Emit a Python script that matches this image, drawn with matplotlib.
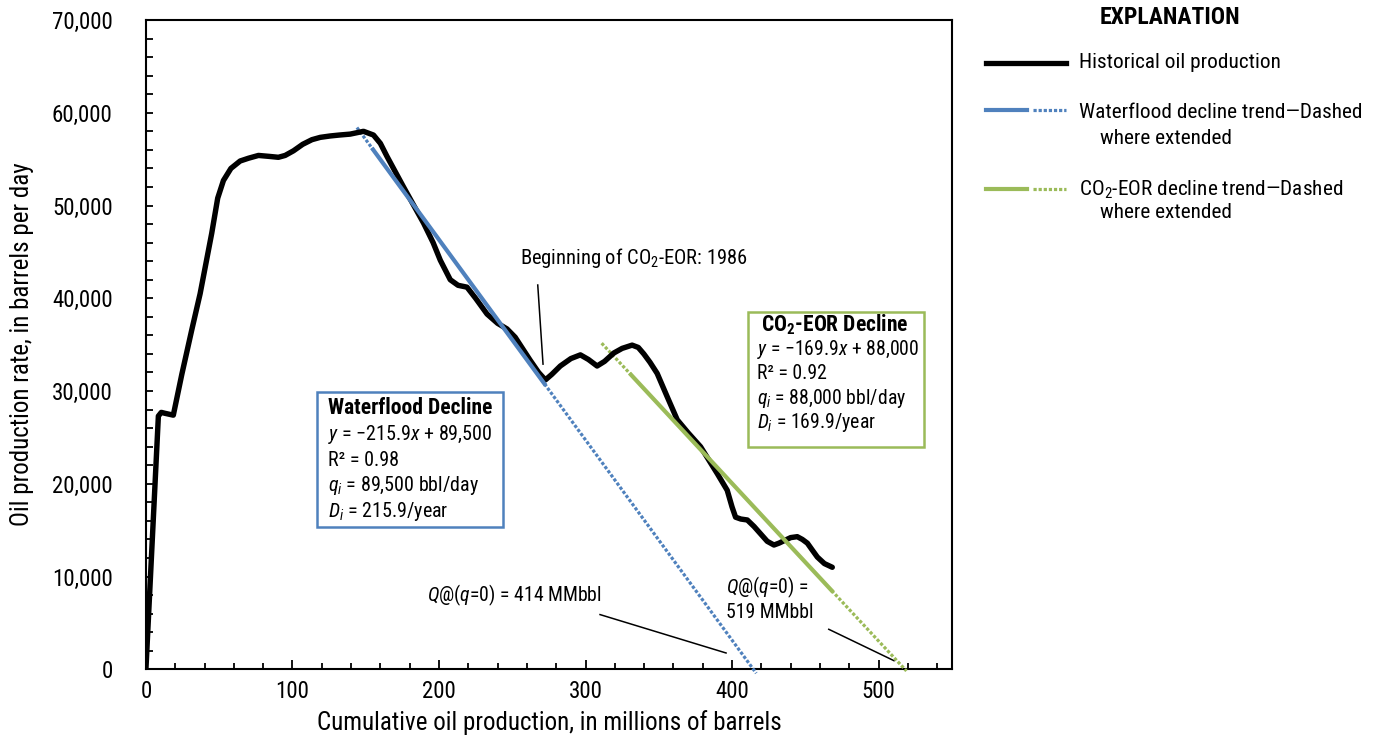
import matplotlib
matplotlib.use('Agg')
import matplotlib.pyplot as plt
from matplotlib import font_manager
from matplotlib.lines import Line2D
from matplotlib.patches import Rectangle
from matplotlib.ticker import MultipleLocator, FuncFormatter

# pick a condensed font if there is one
fam = 'DejaVu Sans'
for name in ['Liberation Sans Narrow', 'Roboto Condensed', 'Liberation Sans']:
    try:
        font_manager.findfont(name, fallback_to_default=False)
        fam = name
        break
    except Exception:
        pass

plt.rcParams['font.family'] = [fam, 'DejaVu Sans']
plt.rcParams['mathtext.fontset'] = 'custom'
plt.rcParams['mathtext.rm'] = fam
plt.rcParams['mathtext.it'] = fam + ':italic'
plt.rcParams['mathtext.bf'] = fam + ':bold'

# historical production (cumulative MMbbl, rate bbl/day)
cum = [0, 8.5, 10.5, 13, 18.7, 24.5, 31.3, 37.0, 44.9, 49, 52.9, 58, 64.3, 70, 76.8,
       84, 90.4, 95, 100.7, 107, 113.3, 119, 125.8, 132, 139.4, 148.5, 155.3, 160,
       164.5, 175.8, 189.5, 196, 200.9, 207.7, 213, 219.1, 225, 232.8, 240, 246.4,
       252, 262.3, 268, 272.6, 277, 282.8, 290, 296.5, 302, 307.9, 313, 319.3, 325,
       331.8, 336, 339.8, 344, 348.9, 355.7, 362.6, 370, 378.5, 384, 389.9, 396.7,
       400, 402.4, 406, 410.4, 415, 419.5, 424, 428.6, 432, 436, 440, 444.5, 448,
       451.4, 455, 458.2, 463, 468.4]
rate = [0, 27300, 27700, 27600, 27400, 31800, 36600, 40500, 47000, 50800, 52700, 54000,
        54800, 55100, 55400, 55300, 55200, 55400, 55900, 56600, 57100, 57350, 57500,
        57600, 57700, 58000, 57600, 56700, 55300, 52000, 48100, 46000, 44100, 42000,
        41400, 41200, 40000, 38300, 37300, 36700, 35800, 33300, 32000, 31200, 31800,
        32700, 33500, 33900, 33400, 32700, 33200, 34100, 34600, 34950, 34700, 34000,
        33100, 31900, 29400, 26900, 25500, 24000, 22600, 21100, 19300, 17500, 16400,
        16200, 16100, 15400, 14600, 13800, 13400, 13600, 13900, 14200, 14300, 14000,
        13600, 12800, 12100, 11400, 11000]

# decline fits
wf_slope, wf_int = -215.9, 89500
eor_slope, eor_int = -169.9, 88000
wf_dot1 = [144, 155]
wf_solid = [155, 272]
wf_dot2 = [272, 416.5]
eor_dot1 = [311, 331]
eor_solid = [331, 468]
eor_dot2 = [468, 519]

blue = '#4f81bd'
green = '#9bbb59'
dots = (0, (1.0, 0.6))

fig = plt.figure(figsize=(13.91, 7.47), dpi=100)
ax = fig.add_axes([0.1049, 0.1040, 0.5794, 0.8692])

def fit(xs, m, b):
    return [m * x + b for x in xs]

ax.plot(wf_dot1, fit(wf_dot1, wf_slope, wf_int), color=blue, lw=2.3, ls=dots, zorder=3)
ax.plot(wf_dot2, fit(wf_dot2, wf_slope, wf_int), color=blue, lw=2.3, ls=dots, zorder=3, clip_on=False)
ax.plot(eor_dot1, fit(eor_dot1, eor_slope, eor_int), color=green, lw=2.3, ls=dots, zorder=3)
ax.plot(eor_dot2, fit(eor_dot2, eor_slope, eor_int), color=green, lw=2.3, ls=dots, zorder=3, clip_on=False)
ax.plot(cum, rate, color='black', lw=3.9, solid_capstyle='round', solid_joinstyle='round', zorder=4)
ax.plot(wf_solid, fit(wf_solid, wf_slope, wf_int), color=blue, lw=3.0, zorder=5)
ax.plot(eor_solid, fit(eor_solid, eor_slope, eor_int), color=green, lw=3.0, zorder=5)

ax.set_xlim(0, 550)
ax.set_ylim(0, 70000)
ax.xaxis.set_major_locator(MultipleLocator(100))
ax.xaxis.set_minor_locator(MultipleLocator(20))
ax.yaxis.set_major_locator(MultipleLocator(10000))
ax.yaxis.set_minor_locator(MultipleLocator(2000))
ax.yaxis.set_major_formatter(FuncFormatter(lambda v, p: f'{int(v):,}'))
ax.tick_params(which='both', direction='in', width=1.3, labelsize=16.5)
ax.tick_params(axis='x', which='major', length=6.5, pad=8)
ax.tick_params(axis='x', which='minor', length=4.5)
ax.tick_params(axis='y', which='both', length=5, pad=24)
for s in ax.spines.values():
    s.set_linewidth(1.5)

ax.set_xlabel('Cumulative oil production, in millions of barrels', fontsize=18, labelpad=5)
ax.set_ylabel('Oil production rate, in barrels per day', fontsize=18, labelpad=13)

# annotations
ax.text(255.5, 44300, 'Beginning of CO$_2$-EOR: 1986', fontsize=14.8, va='center', ha='left')
ax.plot([267.4, 271.0], [41430, 32900], color='black', lw=1.1)
ax.text(191.8, 8000, '$Q$@($q$=0) = 414 MMbbl', fontsize=14.2, va='center', ha='left')
ax.plot([309.9, 395.9], [5900, 1760], color='black', lw=1.1)
ax.text(396.2, 8870, '$Q$@($q$=0) =', fontsize=14.2, va='center', ha='left')
ax.text(396.2, 6100, '519 MMbbl', fontsize=14.2, va='center', ha='left')
ax.plot([466, 510.5], [4315, 930], color='black', lw=1.1)

# waterflood box
ax.add_patch(Rectangle((117, 15300), 127, 14600, fill=True, facecolor='white',
                       edgecolor=blue, lw=1.8, zorder=6))
ax.text(180.5, 28170, 'Waterflood Decline', fontsize=15.5, fontweight='bold',
        ha='center', va='center', zorder=7)
wf_lines = ['$y$ = \u2212215.9$x$ + 89,500', 'R\u00b2 = 0.98',
            '$q_i$ = 89,500 bbl/day', '$D_i$ = 215.9/year']
for i, t in enumerate(wf_lines):
    ax.text(124.6, 25300 - i * 2750, t, fontsize=14.4, ha='left', va='center', zorder=7)

# CO2-EOR box
ax.add_patch(Rectangle((410.8, 24000), 120.2, 14550, fill=True, facecolor='white',
                       edgecolor=green, lw=1.8, zorder=6))
ax.text(470.2, 37120, 'CO$_\\mathbf{2}$-EOR Decline', fontsize=15.5, fontweight='bold',
        ha='center', va='center', zorder=7)
eor_lines = ['$y$ = \u2212169.9$x$ + 88,000', 'R\u00b2 = 0.92',
             '$q_i$ = 88,000 bbl/day', '$D_i$ = 169.9/year']
for i, t in enumerate(eor_lines):
    ax.text(416.7, 34480 - i * 2640, t, fontsize=14.2, ha='left', va='center', zorder=7)

# explanation (legend) drawn in figure pixels
W, H = 1391, 747
def fx(px):
    return px / W
def fy(py):
    return 1 - py / H

fig.text(fx(1170), fy(18), 'EXPLANATION', fontsize=17, fontweight='bold', ha='center', va='center')
fig.add_artist(Line2D([fx(986), fx(1066)], [fy(63), fy(63)], color='black', lw=3.8))
fig.text(fx(1079), fy(63), 'Historical oil production', fontsize=15.3, va='center')
fig.add_artist(Line2D([fx(986), fx(1027)], [fy(109.5), fy(109.5)], color=blue, lw=3.0))
fig.add_artist(Line2D([fx(1033), fx(1066)], [fy(109.5), fy(109.5)], color=blue, lw=2.3, ls=dots))
fig.text(fx(1079), fy(113), 'Waterflood decline trend\u2014Dashed', fontsize=15.3, va='center')
fig.text(fx(1100), fy(138), 'where extended', fontsize=15.3, va='center')
fig.add_artist(Line2D([fx(986), fx(1027)], [fy(188.5), fy(188.5)], color=green, lw=3.0))
fig.add_artist(Line2D([fx(1033), fx(1066)], [fy(188.5), fy(188.5)], color=green, lw=2.3, ls=dots))
fig.text(fx(1079), fy(190), 'CO$_2$-EOR decline trend\u2014Dashed', fontsize=15.3, va='center')
fig.text(fx(1100), fy(213), 'where extended', fontsize=15.3, va='center')

fig.savefig('out.png', dpi=100)
